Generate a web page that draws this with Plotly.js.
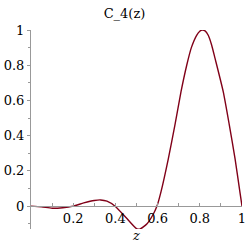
<!DOCTYPE html>
<html>
<head>
<meta charset="utf-8">
<script src="https://cdn.plot.ly/plotly-3.0.1.min.js"></script>
<style>html,body{margin:0;padding:0;background:#fff;}#chart{width:249px;height:248px;}</style>
</head>
<body>
<div id="chart"></div>
<script>
const zValues = [0, 0.05, 0.1, 0.15, 0.2, 0.25, 0.3, 0.33, 0.36, 0.4, 0.45, 0.5, 0.515, 0.55, 0.58, 0.597, 0.616, 0.651, 0.682, 0.711, 0.738, 0.76, 0.785, 0.8, 0.812, 0.825, 0.84, 0.856, 0.872, 0.911, 0.94, 0.967, 0.99, 1.0];
const cValues = [0, -0.004, -0.012, -0.009, 0, 0.018, 0.032, 0.035, 0.028, -0.002, -0.065, -0.128, -0.131, -0.1, -0.045, 0, 0.081, 0.27, 0.46, 0.65, 0.80, 0.90, 0.97, 0.993, 1.0, 0.995, 0.97, 0.915, 0.84, 0.65, 0.46, 0.27, 0.081, 0];
const xTicks = [0.2, 0.4, 0.6, 0.8, 1];
const xTickLabels = ["0.2", "0.4", "0.6", "0.8", "1"];
const yTicks = [0, 0.2, 0.4, 0.6, 0.8, 1];
const yTickLabels = ["0", "0.2", "0.4", "0.6", "0.8", "1"];

const font = {family: "DejaVu Serif", size: 13, color: "#000"};
const yMin = -0.13, yMax = 1.0;

Plotly.newPlot("chart", [{
  x: zValues, y: cValues, type: "scatter", mode: "lines",
  line: {color: "rgb(128,0,24)", width: 1.4, shape: "spline", smoothing: 0.6},
  hoverinfo: "none"
}], {
  width: 249, height: 248,
  margin: {l: 31, r: 7, t: 30, b: 19},
  paper_bgcolor: "#fff", plot_bgcolor: "#fff",
  showlegend: false,
  font: font,
  title: {text: "C_4(z)", x: 0.5, xref: "container", y: 0.945, yref: "container", yanchor: "middle", font: font},
  xaxis: {
    range: [0, 1], anchor: "free", position: (0 - yMin) / (yMax - yMin),
    showgrid: false, zeroline: false, showline: true, linecolor: "#999", linewidth: 1,
    tickvals: xTicks, ticktext: xTickLabels, ticks: "inside", ticklen: 3, tickcolor: "#999",
    minor: {dtick: 0.1, tick0: 0, ticks: "inside", ticklen: 3, tickcolor: "#999"},
    tickfont: font,
    title: {text: "<i>z</i>", font: font, standoff: 6}
  },
  yaxis: {
    range: [yMin, yMax],
    showgrid: false, zeroline: false, showline: true, linecolor: "#999", linewidth: 1,
    tickvals: yTicks, ticktext: yTickLabels, ticks: "outside", ticklen: 3, tickcolor: "#999",
    minor: {dtick: 0.1, tick0: 0, ticks: "outside", ticklen: 2, tickcolor: "#999"},
    tickfont: font
  }
}, {staticPlot: true, displayModeBar: false});
</script>
</body>
</html>
